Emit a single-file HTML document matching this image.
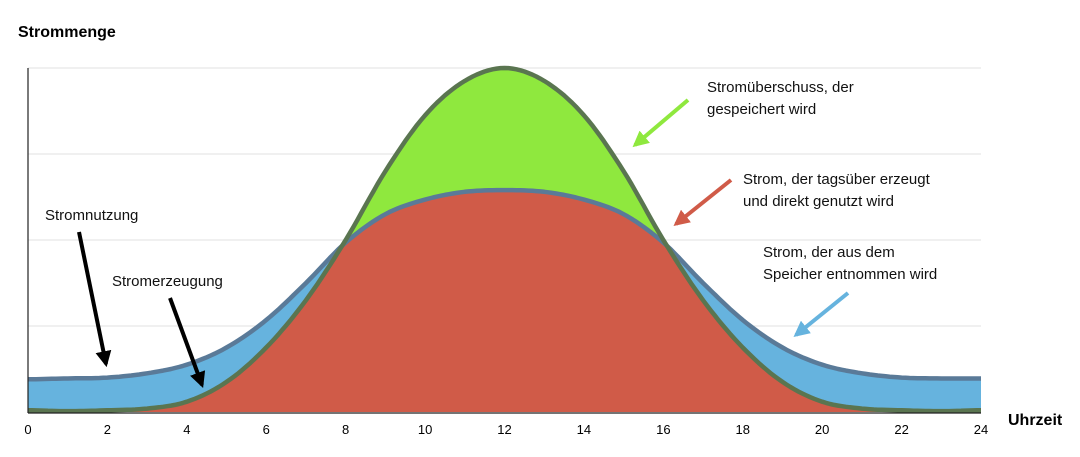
<!DOCTYPE html>
<html><head><meta charset="utf-8"><style>
body{margin:0;background:#fff;}
svg{display:block;font-family:"Liberation Sans",Arial,sans-serif;}
</style></head><body>
<svg width="1080" height="457" viewBox="0 0 1080 457">
<g id="grid"></g>
<g id="areas"></g>
<line x1="28" y1="68" x2="28" y2="413" stroke="#222" stroke-width="1.2"/>
<line x1="28" y1="413" x2="981" y2="413" stroke="#222" stroke-width="1.2"/>
<g id="ticks" font-size="13" text-anchor="middle"></g>
<text x="18" y="37" font-size="16" font-weight="bold">Strommenge</text>
<text x="1008" y="425" font-size="16" font-weight="bold">Uhrzeit</text>
<g font-size="15" fill="#111">
<text x="45" y="220">Stromnutzung</text>
<text x="112" y="286">Stromerzeugung</text>
<text><tspan x="707" y="92">Stromüberschuss, der</tspan><tspan x="707" y="114">gespeichert wird</tspan></text>
<text><tspan x="743" y="184">Strom, der tagsüber erzeugt</tspan><tspan x="743" y="206">und direkt genutzt wird</tspan></text>
<text><tspan x="763" y="257">Strom, der aus dem</tspan><tspan x="763" y="279">Speicher entnommen wird</tspan></text>
</g>
<defs>
<marker id="ah" viewBox="0 0 10 10" refX="8" refY="5" markerWidth="4" markerHeight="4" orient="auto-start-reverse"><path d="M0,0L10,5L0,10z" fill="context-stroke"/></marker>
</defs>
<g stroke-width="4">
<line x1="79" y1="232" x2="106" y2="364" stroke="#000" marker-end="url(#ah)"/>
<line x1="170" y1="298" x2="202" y2="385" stroke="#000" marker-end="url(#ah)"/>
<line x1="688" y1="100" x2="635" y2="145" stroke="#8fe83e" marker-end="url(#ah)"/>
<line x1="731" y1="180" x2="676" y2="224" stroke="#d05b48" marker-end="url(#ah)"/>
<line x1="848" y1="293" x2="796" y2="335" stroke="#66b3de" marker-end="url(#ah)"/>
</g>
</svg>
<script>
const hours=[0,1,2,3,4,5,6,7,8,9,10,11,12,13,14,15,16,17,18,19,20,21,22,23,24];
const generation=[0.02,0.01,0.02,0.04,0.12,0.35,0.75,1.3,2.0,2.8,3.45,3.85,4.0,3.85,3.45,2.8,2.0,1.3,0.75,0.35,0.12,0.04,0.02,0.01,0.02];
const consumption=[0.38,0.39,0.4,0.45,0.55,0.75,1.07,1.5,1.97,2.3,2.47,2.56,2.58,2.56,2.47,2.3,1.97,1.5,1.07,0.75,0.55,0.45,0.4,0.39,0.39];
const xTicks=[0,2,4,6,8,10,12,14,16,18,20,22,24];
const yGrid=[1,2,3,4];
const X=h=>28+h*(953/24), Y=v=>412-v*86;
const NS="http://www.w3.org/2000/svg";
function cr(arr,t){const i=Math.min(Math.floor(t),arr.length-2),u=t-i;
 const p0=arr[Math.max(i-1,0)],p1=arr[i],p2=arr[i+1],p3=arr[Math.min(i+2,arr.length-1)];
 return 0.5*((2*p1)+(-p0+p2)*u+(2*p0-5*p1+4*p2-p3)*u*u+(-p0+3*p1-3*p2+p3)*u*u*u);}
const samp=[];for(let t=0;t<=24.0001;t+=0.1)samp.push(Math.min(t,24));
const g=samp.map(t=>cr(generation,t)),c=samp.map(t=>cr(consumption,t));
function pts(v){return samp.map((t,i)=>X(t).toFixed(1)+","+Y(v[i]).toFixed(1)).join(" ");}
function area(v){return "M"+X(0)+","+Y(0)+" L"+pts(v)+" L"+X(24)+","+Y(0)+"Z";}
const grid=document.getElementById("grid");
yGrid.forEach(v=>{const l=document.createElementNS(NS,"line");


l.setAttribute("x1",28);l.setAttribute("x2",981);l.setAttribute("y1",Y(v));l.setAttribute("y2",Y(v));l.setAttribute("stroke","#e2e2e2");grid.appendChild(l);});
const A=document.getElementById("areas");
function path(d,fill,stroke,name){const p=document.createElementNS(NS,"path");


p.setAttribute("d",d);p.setAttribute("fill",fill);if(stroke){p.setAttribute("stroke",stroke);p.setAttribute("stroke-width","4.5");p.setAttribute("stroke-linejoin","round");}A.appendChild(p);}
path(area(c),"#66b3de",null,"storage-area");
path(area(g),"#8fe83e",null,"surplus-area");
path(area(g.map((v,i)=>Math.min(v,c[i]))),"#d05b48",null,"direct-use-area");
path("M"+pts(c),"none","#5a7a98","consumption-line");
path("M"+pts(g),"none","#5a7550","generation-line");
const tk=document.getElementById("ticks");
xTicks.forEach(h=>{const t=document.createElementNS(NS,"text");


t.setAttribute("x",X(h));t.setAttribute("y",434);t.textContent=h;tk.appendChild(t);});
</script>
</body></html>
